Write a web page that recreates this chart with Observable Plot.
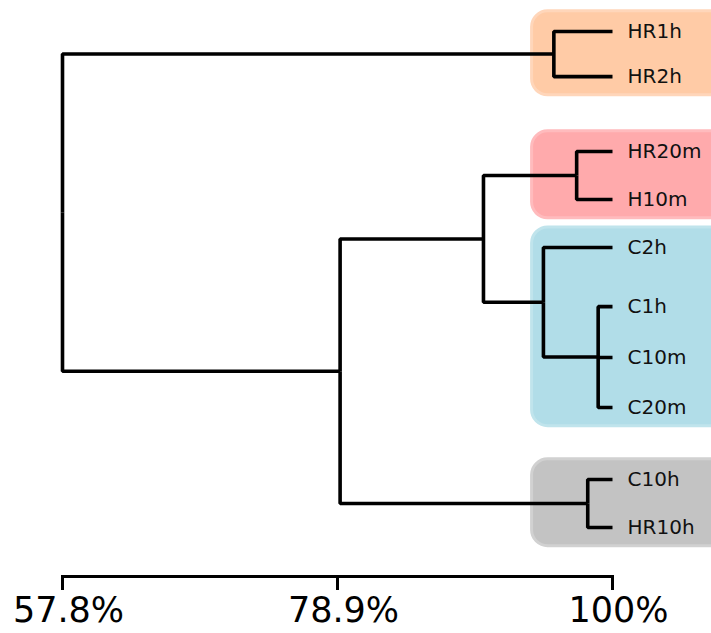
<!DOCTYPE html>
<html>
<head>
<meta charset="utf-8">
<script src="https://cdn.jsdelivr.net/npm/d3@7"></script>
<script src="https://cdn.jsdelivr.net/npm/@observablehq/plot@0.6"></script>
<style>
  html, body { margin: 0; padding: 0; background: #fff; }
  #chart svg { display: block; }
</style>
</head>
<body>
<div id="chart"></div>
<script>
// Leaves in dendrogram order, top to bottom, and their row positions
const leaves = ["HR1h", "HR2h", "HR20m", "H10m", "C2h", "C1h", "C10m", "C20m", "C10h", "HR10h"];
const leafRow = [0, 0.94, 2.5, 3.5, 4.5, 5.73, 6.79, 7.83, 9.33, 10.33];

// Internal nodes: id, children and the similarity (%) at which they join
const mergeIds = ["a", "b", "c", "d", "e", "f", "g", "root"];
const mergeChildren = [
  ["HR1h", "HR2h"],
  ["HR20m", "H10m"],
  ["C1h", "C10m", "C20m"],
  ["C2h", "c"],
  ["b", "d"],
  ["C10h", "HR10h"],
  ["e", "f"],
  ["a", "g"]
];
const mergeSimilarity = [95.5, 97.25, 98.9, 94.7, 90.1, 98.1, 79.1, 57.8];

// Highlighted clusters
const groupLeaves = [
  ["HR1h", "HR2h"],
  ["HR20m", "H10m"],
  ["C2h", "C1h", "C10m", "C20m"],
  ["C10h", "HR10h"]
];
const groupFill = ["#ffcba6", "#ffaaac", "#b1dde8", "#c3c3c3"];
const groupRim = ["#ffd6ba", "#ffbbbd", "#c0e4ec", "#d1d1d1"];

// Axis ticks (similarity %)
const axisTicks = [57.8, 78.9, 100];

// ---- layout: node positions ----
const pos = new Map();
leaves.forEach((name, i) => pos.set(name, {x: 100, y: leafRow[i]}));
mergeIds.forEach((id, i) => {
  const kids = mergeChildren[i].map(k => pos.get(k));
  pos.set(id, {x: mergeSimilarity[i], y: (kids[0].y + kids[kids.length - 1].y) / 2});
});

// Elbow connectors from each parent to each child
const elbows = [];
mergeIds.forEach((id, i) => {
  const p = pos.get(id);
  mergeChildren[i].forEach(k => {
    const c = pos.get(k);
    const edge = id + "-" + k;
    elbows.push({edge, x: p.x, y: p.y});
    elbows.push({edge, x: p.x, y: c.y});
    elbows.push({edge, x: c.x, y: c.y});
  });
});

const leafData = leaves.map((name, i) => ({name, row: leafRow[i]}));

const boxes = groupLeaves.map((g, i) => {
  const rows = g.map(n => leafRow[leaves.indexOf(n)]);
  return {
    y1: Math.min(...rows) - 0.42,
    y2: Math.max(...rows) + 0.39,
    fill: groupFill[i],
    rim: groupRim[i]
  };
});

const chart = Plot.plot({
  width: 711,
  height: 633,
  marginLeft: 62,
  marginRight: 99,
  marginTop: 0,
  marginBottom: 57,
  style: {fontFamily: "DejaVu Sans", background: "#fff", color: "#000"},
  x: {domain: [57.8, 100], label: null},
  y: {domain: [0, 10.33], range: [31, 527], axis: null},
  marks: [
    Plot.rect(boxes, {
      x1: () => 93.83, x2: () => 110,
      y1: "y1", y2: "y2",
      fill: "fill", stroke: "rim", strokeWidth: 3, rx: 16
    }),
    Plot.line(elbows, {
      x: "x", y: "y", z: "edge",
      stroke: "#000", strokeWidth: 3.6,
      strokeLinejoin: "miter", strokeLinecap: "butt"
    }),
    Plot.text(leafData, {
      x: () => 100, y: "row", text: "name",
      textAnchor: "start", dx: 15, fontSize: 20, fill: "#111"
    }),
    // axis baseline and tick marks
    Plot.frame({anchor: "bottom", stroke: "#000", strokeWidth: 3}),
    Plot.axisX({
      ticks: axisTicks,
      tickFormat: () => "",
      label: null,
      tickSize: 14,
      strokeWidth: 3,
      stroke: "#000"
    }),
    // tick labels
    Plot.axisX({
      ticks: axisTicks,
      tickFormat: d => `${d}%`,
      label: null,
      tickSize: 0,
      tickPadding: 21,
      fontSize: 35,
      dx: 6,
      fill: "#000"
    })
  ]
});

document.getElementById("chart").appendChild(chart);
</script>
</body>
</html>
